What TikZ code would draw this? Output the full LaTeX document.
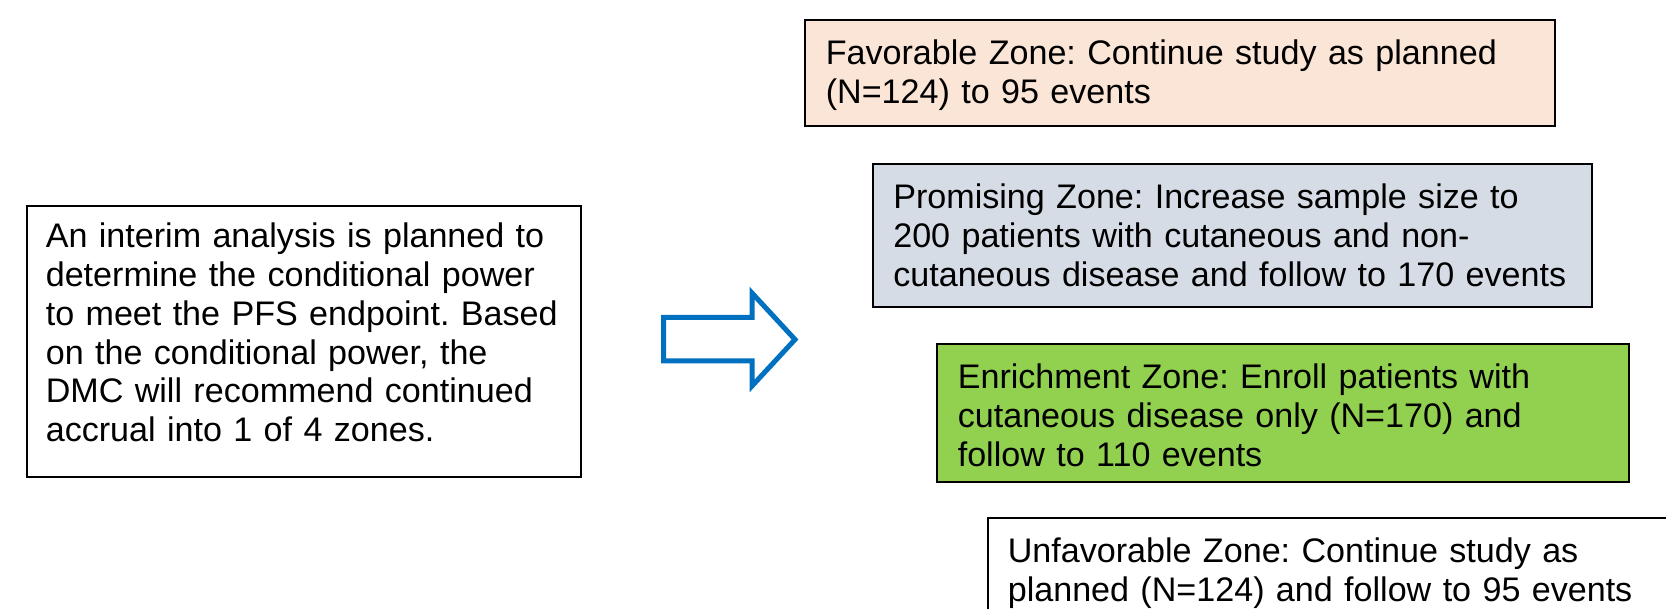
\documentclass[tikz,border=0pt]{standalone}
\usepackage{fontspec}
\setmainfont{Liberation Sans}
\definecolor{peach}{HTML}{FBE5D6}
\definecolor{bluegray}{HTML}{D6DCE5}
\definecolor{limegreen}{HTML}{92D050}
\definecolor{arrowblue}{HTML}{0070C0}
\frenchspacing
\begin{document}
\begin{tikzpicture}[x=0.5pt,y=-0.5pt,
  zbox/.style={draw=black, line width=0.8pt, anchor=north west, inner ysep=0pt,
    align=left, text height=22.5pt,
    font=\fontsize{17.05}{19.4}\selectfont\frenchspacing},
  blockarrow/.style={draw=arrowblue, line width=2.5pt, miter limit=10, line join=miter}]
\useasboundingbox (0,0) rectangle (1666,609);
\clip (0,0) rectangle (1666,609);
\fill[white] (0,0) rectangle (1666,609);

\node[zbox, inner xsep=9.5pt, text width=258pt, text height=21pt, text depth=114.5pt]
  (interim) at (26,205)
  {An interim analysis is planned to\\determine the conditional power\\to meet the PFS endpoint. Based\\on the conditional power, the\\DMC will recommend continued\\accrual into 1 of 4 zones.};

\node[zbox, fill=peach, inner xsep=10.5pt, text width=354pt, text depth=30.5pt]
  (fav) at (804,19)
  {Favorable Zone: Continue study as planned\\(N=124) to 95 events};

\node[zbox, fill=bluegray, inner xsep=10.25pt, text width=339pt, text depth=49pt]
  (prom) at (872,163)
  {Promising Zone: Increase sample size to\\200 patients with cutaneous and non-\\cutaneous disease and follow to 170 events};

\node[zbox, fill=limegreen, inner xsep=10.5pt, text width=325pt, text depth=46.5pt]
  (enr) at (936,343)
  {Enrichment Zone: Enroll patients with\\cutaneous disease only (N=170) and\\follow to 110 events};

\node[zbox, fill=white, inner xsep=10pt, text width=319.25pt, text depth=44pt]
  (unfav) at (987,517)
  {Unfavorable Zone: Continue study as\\planned (N=124) and follow to 95 events};

\draw[blockarrow] (663.5,317.5) -- (752,317.5) -- (752,293) -- (795,339.5)
  -- (752,386) -- (752,361) -- (663.5,361) -- cycle;
\end{tikzpicture}
\end{document}
